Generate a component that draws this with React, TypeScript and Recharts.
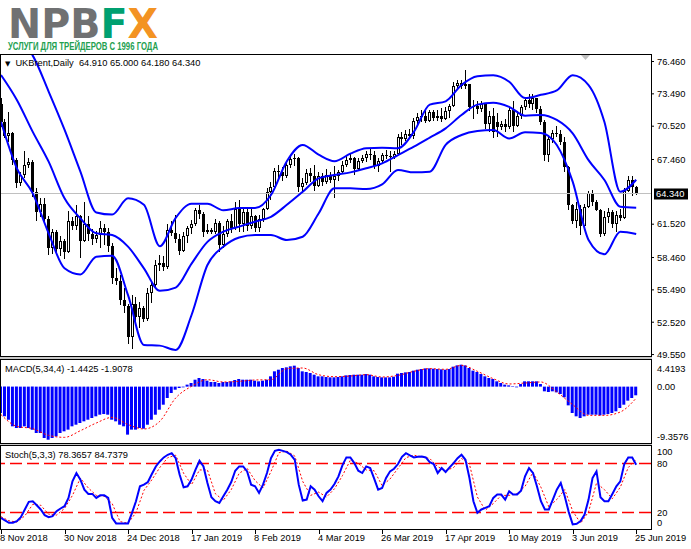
import React from "react";
import { ComposedChart, Bar, Line, XAxis, YAxis, ReferenceLine } from "recharts";

// daily candles, 8 Nov 2018 .. 25 Jun 2019
const opens = [
  72.6, 70.9, 69.6, 69.9, 67.4, 65.3, 66.0, 67.0, 67.2, 64.5,
  62.6, 63.4, 62.0, 59.3, 60.8, 59.2, 60.0, 59.0, 61.8, 61.4,
  62.3, 60.0, 61.5, 60.6, 60.2, 60.5, 61.2, 60.8, 59.5, 56.6,
  56.3, 54.6, 54.0, 51.2, 54.2, 53.0, 53.8, 52.8, 55.2, 55.9,
  57.8, 58.0, 57.6, 61.0, 60.7, 60.2, 59.1, 60.4, 61.2, 61.5,
  62.8, 62.5, 60.8, 61.0, 60.8, 61.6, 59.6, 60.6, 61.8, 61.2,
  62.9, 61.5, 62.6, 61.4, 62.3, 61.2, 62.0, 62.9, 64.5, 64.9,
  66.4, 66.3, 65.9, 67.0, 67.5, 67.6, 64.9, 65.3, 66.2, 65.9,
  65.0, 65.9, 65.4, 66.0, 65.6, 65.9, 66.3, 67.0, 67.4, 67.6,
  66.6, 67.3, 67.6, 68.0, 67.9, 66.9, 67.3, 67.9, 67.8, 67.7,
  68.0, 69.5, 69.3, 69.8, 69.6, 71.0, 71.4, 71.5, 71.0, 71.8,
  71.3, 71.5, 71.2, 71.9, 72.4, 74.2, 74.5, 74.2, 74.4, 72.3,
  72.4, 72.1, 72.6, 70.7, 71.5, 70.9, 70.4, 70.7, 70.4, 72.0,
  70.5, 71.5, 72.3, 72.9, 72.6, 73.1, 72.1, 70.9, 67.9, 69.3,
  69.9, 69.8, 69.1, 66.8, 63.3, 61.8, 62.9, 61.4, 63.1, 64.4,
  63.6, 62.8, 60.6, 62.2, 62.6, 61.5, 62.4, 62.1, 64.6, 65.6,
  64.91,
];
const highs = [
  73.1, 71.2, 71.8, 70.0, 67.6, 66.3, 68.2, 67.6, 67.4, 64.8,
  63.9, 63.9, 62.3, 61.1, 61.0, 60.4, 60.2, 62.7, 62.2, 63.3,
  62.4, 63.6, 62.3, 61.1, 60.9, 61.8, 61.5, 61.2, 59.8, 57.5,
  56.9, 55.7, 54.2, 55.0, 54.8, 54.4, 54.0, 55.7, 56.3, 58.2,
  58.7, 58.6, 61.5, 61.8, 62.4, 60.6, 60.8, 61.4, 61.9, 63.0,
  63.3, 62.6, 61.5, 61.2, 62.0, 61.8, 61.4, 62.0, 62.5, 63.6,
  63.7, 63.0, 63.0, 63.0, 62.4, 62.4, 63.0, 64.8, 65.4, 66.7,
  67.0, 66.8, 67.3, 67.9, 68.0, 67.7, 65.8, 66.6, 66.7, 67.0,
  66.3, 66.2, 66.6, 66.3, 66.9, 66.5, 67.3, 67.9, 68.1, 67.7,
  67.6, 67.9, 68.2, 68.5, 68.2, 67.6, 68.1, 68.3, 68.2, 68.2,
  69.8, 70.0, 70.2, 70.3, 71.3, 71.7, 72.0, 72.0, 72.0, 72.0,
  72.0, 72.2, 72.3, 72.6, 74.6, 74.8, 74.8, 75.7, 74.4, 72.9,
  72.8, 72.8, 72.6, 71.9, 72.2, 71.7, 71.0, 71.2, 72.2, 72.8,
  71.9, 72.5, 73.2, 73.5, 73.5, 73.1, 72.4, 71.1, 69.6, 70.2,
  70.5, 70.2, 69.5, 66.9, 63.4, 63.6, 63.3, 63.4, 64.6, 64.7,
  63.7, 62.9, 62.7, 63.0, 62.8, 62.7, 62.9, 64.8, 65.9, 65.9,
  65.0,
];
const lows = [
  70.4, 69.4, 69.1, 67.0, 64.8, 65.0, 65.8, 66.7, 64.0, 61.8,
  62.2, 61.5, 58.7, 58.8, 58.7, 58.6, 58.3, 58.9, 61.0, 61.0,
  58.4, 59.9, 60.0, 59.6, 59.8, 59.3, 59.6, 59.0, 56.0, 55.9,
  54.1, 53.4, 50.5, 50.1, 52.3, 52.0, 52.5, 52.6, 54.3, 55.6,
  57.2, 57.2, 57.4, 60.4, 59.8, 58.7, 59.0, 59.8, 60.6, 61.4,
  62.0, 60.3, 60.6, 60.6, 60.6, 59.0, 59.3, 60.3, 60.7, 61.0,
  60.8, 60.8, 60.9, 61.1, 60.8, 60.8, 61.7, 62.8, 63.7, 64.7,
  65.6, 65.5, 65.8, 66.7, 66.9, 64.5, 64.4, 65.1, 65.4, 64.6,
  64.9, 65.0, 65.2, 65.3, 63.9, 65.5, 66.1, 66.8, 67.1, 66.0,
  66.5, 67.1, 67.2, 67.4, 66.6, 66.3, 67.1, 67.5, 66.3, 67.5,
  67.9, 68.8, 69.2, 69.4, 69.3, 70.7, 70.9, 70.8, 70.9, 71.0,
  71.0, 70.9, 71.1, 71.3, 72.3, 73.9, 73.9, 73.9, 71.9, 71.2,
  71.6, 71.8, 70.3, 70.0, 69.4, 69.5, 70.2, 70.0, 70.3, 70.0,
  70.4, 71.2, 72.0, 72.2, 72.0, 71.7, 70.6, 67.3, 67.2, 69.0,
  69.5, 68.8, 66.3, 62.8, 61.5, 61.2, 60.5, 61.3, 63.0, 63.2,
  62.7, 60.3, 60.4, 61.6, 61.2, 60.8, 61.8, 62.0, 64.5, 64.1,
  64.18,
];
const closes = [
  70.9, 69.6, 69.9, 67.4, 65.3, 66.0, 67.0, 67.2, 64.5, 62.6,
  63.4, 62.0, 59.3, 60.8, 59.2, 60.0, 59.0, 61.8, 61.4, 62.3,
  60.0, 61.5, 60.6, 60.2, 60.5, 61.2, 60.8, 59.5, 56.6, 56.3,
  54.6, 54.0, 51.2, 54.2, 53.0, 53.8, 52.8, 55.2, 55.9, 57.8,
  58.0, 57.6, 61.0, 60.7, 60.2, 59.1, 60.4, 61.2, 61.5, 62.8,
  62.5, 60.8, 61.0, 60.8, 61.6, 59.6, 60.6, 61.8, 61.2, 62.9,
  61.5, 62.6, 61.4, 62.3, 61.2, 62.0, 62.9, 64.5, 64.9, 66.4,
  66.3, 65.9, 67.0, 67.5, 67.6, 64.9, 65.3, 66.2, 65.9, 65.0,
  65.9, 65.4, 66.0, 65.6, 65.9, 66.3, 67.0, 67.4, 67.6, 66.6,
  67.3, 67.6, 68.0, 67.9, 66.9, 67.3, 67.9, 67.8, 67.7, 68.0,
  69.5, 69.3, 69.8, 69.6, 71.0, 71.4, 71.5, 71.0, 71.8, 71.3,
  71.5, 71.2, 71.9, 72.4, 74.2, 74.5, 74.2, 74.4, 72.3, 72.4,
  72.1, 72.6, 70.7, 71.5, 70.0, 70.4, 70.7, 70.4, 72.0, 70.5,
  71.5, 72.3, 72.9, 72.6, 73.1, 72.1, 70.9, 67.9, 69.3, 69.9,
  69.8, 69.1, 66.8, 63.3, 61.8, 62.9, 61.4, 63.1, 64.4, 63.6,
  62.8, 60.6, 62.2, 62.6, 61.5, 62.4, 62.1, 64.6, 65.6, 64.91,
  64.34,
];

// Bollinger bands, read every 4th bar
const bbUpper = [
  79.8, 78.6, 77.0, 73.7, 70.2, 66.35, 62.6, 62.4, 63.9, 63.3,
  59.5, 62.1, 63.4, 63.4, 62.8, 63.0, 63.0, 64.2, 67.3, 68.8,
  67.9, 67.3, 68.0, 68.5, 68.55, 68.5, 70.0, 72.5, 72.8, 74.3,
  75.1, 75.2, 74.6, 73.1, 73.4, 73.8, 75.2, 74.3, 70.9, 64.5,
  65.6,
];
const bbMiddle = [
  75.22, 72.93, 70.0, 67.26, 63.9, 62.06, 60.68, 60.53, 59.46, 57.47,
  55.4, 55.7, 57.9, 59.9, 60.83, 61.3, 61.75, 62.2, 63.3, 64.5,
  65.73, 66.04, 66.28, 66.65, 67.11, 67.87, 68.64, 69.47, 70.32, 71.55,
  72.5, 72.68, 72.3, 71.49, 71.55, 71.09, 69.86, 67.4, 65.58, 63.13,
  63.04,
];
const bbLower = [
  70.93, 66.65, 64.35, 60.68, 57.47, 56.9, 58.54, 58.63, 55.0, 50.43,
  50.37, 49.97, 53.18, 57.77, 59.45, 60.3, 60.53, 60.53, 60.07, 60.37,
  62.5, 64.81, 64.81, 64.75, 65.18, 66.5, 66.28, 66.34, 68.8, 69.71,
  70.08, 70.17, 69.4, 69.96, 69.9, 68.79, 65.43, 60.07, 58.75, 60.83,
  60.62,
];

// MACD(5,34,4): histogram per bar, signal every 4th bar
const macdHist = [
  -4.38, -4.93, -5.49, -6.59, -6.87, -6.87, -6.59, -6.87, -7.14, -7.7,
  -7.7, -8.53, -8.81, -8.53, -8.25, -7.7, -7.42, -7.14, -6.59, -6.32,
  -6.04, -5.76, -5.49, -5.21, -4.93, -4.66, -4.55, -4.66, -5.49, -5.76,
  -6.32, -6.59, -7.97, -7.14, -7.14, -6.87, -6.98, -6.32, -5.49, -4.66,
  -3.83, -3.0, -1.89, -1.06, -0.51, -0.23, -0.12, 0.33, 0.6, 1.15,
  1.43, 1.27, 0.99, 0.77, 0.77, 0.6, 0.77, 0.77, 0.88, 1.1,
  1.27, 1.15, 1.15, 1.15, 0.99, 0.88, 0.99, 1.15, 1.71, 2.54,
  2.81, 3.09, 3.2, 3.37, 3.48, 3.09, 2.54, 2.43, 2.26, 1.98,
  1.71, 1.71, 1.6, 1.54, 1.54, 1.6, 1.71, 1.87, 1.93, 1.98,
  1.98, 1.98, 2.09, 1.98, 1.71, 1.6, 1.54, 1.54, 1.54, 1.65,
  2.15, 2.26, 2.37, 2.43, 2.65, 2.81, 2.92, 3.03, 3.03, 2.98,
  2.92, 2.87, 2.81, 2.92, 3.31, 3.53, 3.64, 3.53, 3.09, 2.65,
  2.43, 2.09, 1.71, 1.43, 1.27, 0.88, 0.6, 0.33, 0.21, -0.06,
  -0.12, 0.43, 0.88, 0.88, 0.88, 0.88, 0.43, -0.78, -0.89, -0.78,
  -0.95, -1.22, -1.78, -3.11, -4.38, -4.93, -5.21, -4.93, -4.66, -4.66,
  -4.66, -4.77, -4.66, -4.55, -4.38, -4.1, -3.55, -3.0, -2.33, -1.89,
  -1.44,
];
const macdSignal = [
  -4.65, -6.6, -6.98, -8.09, -8.42, -7.31, -6.04, -5.1, -6.3, -7.03,
  -5.76, -1.89, 0.05, 1.15, 0.77, 0.88, 1.1, 1.15, 2.98, 3.09,
  1.98, 1.65, 1.76, 1.98, 1.6, 1.87, 2.54, 2.98, 2.87, 3.53,
  2.54, 1.32, 0.44, 0.6, 0.77, -0.89, -2.99, -4.77, -4.77, -4.21,
  -1.91,
];

// Stoch(5,3,3): main per bar, signal every 2nd bar
const stochMain = [
  13.6, 10.4, 7.6, 7.6, 9.6, 14.5, 23.8, 33.1, 33.9, 29.0,
  23.8, 16.9, 14.5, 15.7, 21.7, 25.0, 27.8, 37.9, 58.1, 68.3,
  60.2, 48.0, 42.8, 42.8, 37.9, 41.1, 41.1, 37.9, 13.6, 6.8,
  6.8, 6.8, 6.8, 19.7, 33.9, 52.1, 54.1, 57.3, 67.0, 76.3,
  82.4, 87.3, 90.5, 92.5, 86.4, 66.2, 50.9, 52.1, 60.2, 72.3,
  83.2, 76.3, 56.1, 38.7, 33.9, 31.8, 39.9, 48.0, 57.3, 71.1,
  76.3, 76.3, 70.3, 54.1, 52.1, 44.0, 54.1, 68.3, 86.4, 95.3,
  96.6, 95.3, 93.7, 90.5, 84.4, 54.1, 34.7, 35.9, 52.1, 48.0,
  39.9, 33.9, 44.0, 48.0, 54.9, 64.2, 77.6, 87.3, 87.3, 80.4,
  71.1, 68.3, 76.3, 74.3, 61.4, 48.0, 50.0, 62.2, 70.3, 73.5,
  79.2, 88.1, 92.5, 89.7, 87.3, 88.1, 88.5, 87.3, 81.6, 79.2,
  68.3, 74.3, 69.5, 75.1, 80.4, 86.4, 90.5, 84.4, 62.2, 33.9,
  19.7, 23.8, 25.8, 27.8, 37.9, 42.0, 42.0, 35.9, 46.0, 42.0,
  42.0, 46.8, 64.2, 74.3, 68.3, 52.1, 33.9, 23.8, 23.8, 35.9,
  48.0, 56.1, 39.9, 20.9, 5.6, 6.4, 9.6, 17.7, 35.9, 62.2,
  70.3, 38.7, 33.9, 33.9, 42.8, 52.1, 58.1, 79.2, 87.3, 87.3,
  78.37,
];
const stochSignal = [
  15, 10, 8.5, 16, 30, 29, 18, 17, 25, 41,
  62, 50, 41, 40, 31, 9, 7, 20, 47, 60,
  75, 87, 90, 68, 54, 72, 72, 43, 35, 48,
  68, 74, 59, 50, 70, 93, 95, 89, 58, 41,
  45, 39, 49, 65, 84, 80, 72, 71, 53, 61,
  74, 87, 90, 88, 86, 76, 71, 75, 86, 79,
  39, 23, 31, 41, 41, 43, 52, 69, 51, 27,
  36, 48, 22, 7, 21, 56, 48, 37, 51, 75,
  84.74,
];

const priceTicks = [76.46, 73.49, 70.52, 67.46, 61.52, 58.46, 55.49, 52.52, 49.55];
const macdTicks = [4.4193, 0, -9.3576];
const macdTickLabels = ["4.4193", "0.00", "-9.3576"];
const stochTicks = [100, 80, 20, 0];
const dateTicks = [0, 16, 32, 48, 64, 80, 96, 112, 128, 144, 160];
const dateLabels = [
  "8 Nov 2018", "30 Nov 2018", "24 Dec 2018", "17 Jan 2019", "8 Feb 2019", "4 Mar 2019",
  "26 Mar 2019", "17 Apr 2019", "10 May 2019", "3 Jun 2019", "25 Jun 2019",
];

const rows = opens.map((o, i) => ({
  i,
  o,
  h: highs[i],
  l: lows[i],
  c: closes[i],
  range: [lows[i], highs[i]],
  up: i % 4 === 0 ? bbUpper[i / 4] : null,
  mid: i % 4 === 0 ? bbMiddle[i / 4] : null,
  lo: i % 4 === 0 ? bbLower[i / 4] : null,
  macd: macdHist[i],
  sig: i % 4 === 0 ? macdSignal[i / 4] : null,
  k: stochMain[i],
  d: i % 2 === 0 ? stochSignal[i / 2] : null,
}));

const FONT = "'Liberation Sans', Arial, sans-serif";
const FS = 9.3;
const W = 691;
const X_DOMAIN: [number, number] = [-0.252, 163.73];
const BLUE = "#0000ff";
const RED = "#ff0000";

function Candle(props: any) {
  const { x, y, width, height, payload } = props;
  if (x == null || !payload) return null;
  const top = Math.min(y, y + height);
  const span = Math.abs(height);
  const { o, h, l, c } = payload;
  const toY = (p: number) => (h === l ? top : top + ((h - p) / (h - l)) * span);
  const px = Math.round(x + width / 2);
  const y1 = toY(Math.max(o, c));
  const y2 = toY(Math.min(o, c));
  const bh = Math.max(y2 - y1, 1);
  const bull = c >= o;
  return (
    <g shapeRendering="crispEdges">
      <rect x={px} y={top} width={1} height={span} fill="#000" />
      <rect x={px - 1} y={y1} width={3} height={bh} fill="#000" />
      {bull && bh > 2 && <rect x={px} y={y1 + 1} width={1} height={bh - 2} fill="#fff" />}
    </g>
  );
}

function MacdTick(props: any) {
  const { x, y, payload } = props;
  const idx = macdTicks.indexOf(payload.value);
  const shift = idx === 0 ? 9 : idx === 2 ? -6 : 0;
  return (
    <text x={x} y={y + shift} dy="0.35em" fontSize={FS} fontFamily={FONT} fill="#000" textAnchor="start">
      {macdTickLabels[idx]}
    </text>
  );
}

function StochTick(props: any) {
  const { x, y, payload } = props;
  const v = payload.value;
  const shift = v === 100 ? 5 : v === 0 ? -6.5 : 0;
  return (
    <text x={x} y={y + shift} dy="0.35em" fontSize={FS} fontFamily={FONT} fill="#000" textAnchor="start">
      {String(v)}
    </text>
  );
}

function DateTick(props: any) {
  const { x, y, payload } = props;
  const idx = dateTicks.indexOf(payload.value);
  const px = Math.round(x);
  return (
    <g>
      <rect x={px} y={y + 1} width={1} height={4} fill="#000" />
      <text x={px - 1} y={y + 9} dy="0.35em" fontSize={FS} fontFamily={FONT} fill="#000" textAnchor="start">
        {dateLabels[idx]}
      </text>
    </g>
  );
}

function PriceBadge(props: any) {
  const vb = props.viewBox || {};
  const bx = (vb.x || 0) + (vb.width || 0) + 3;
  const by = vb.y || 0;
  return (
    <g>
      <rect x={bx} y={by - 5} width={34} height={11} fill="#000" />
      <text x={bx + 2} y={by} dy="0.35em" fontSize={FS} fontFamily={FONT} fill="#fff">
        64.340
      </text>
    </g>
  );
}

const frame = (top: number, height: number): React.CSSProperties => ({
  position: "absolute",
  left: 0,
  top,
  width: 652,
  height,
  border: "1px solid #000",
  boxSizing: "border-box",
  pointerEvents: "none",
});

const label = (top: number): React.CSSProperties => ({
  position: "absolute",
  left: 5,
  top,
  fontSize: FS,
  lineHeight: "12px",
  color: "#000",
  whiteSpace: "pre",
});

export default function App() {
  return (
    <div
      style={{
        position: "absolute",
        left: 0,
        top: 0,
        width: W,
        height: 549,
        background: "#fff",
        overflow: "hidden",
        fontFamily: FONT,
      }}
    >
      {/* logo */}
      <svg width={320} height={54} style={{ position: "absolute", left: 0, top: 0 }}>
        <text
          x={8}
          y={38}
          fontSize={41}
          fontWeight="bold"
          fontFamily="'DejaVu Sans', sans-serif"
          textLength={150}
          lengthAdjust="spacingAndGlyphs"
        >
          <tspan fill="#707172">NPB</tspan>
          <tspan fill="#00a070">F</tspan>
          <tspan fill="#f39323">X</tspan>
        </text>
        <text
          x={8}
          y={50}
          fontSize={10.5}
          fontWeight="bold"
          fontFamily={FONT}
          fill="#23a050"
          textLength={150}
          lengthAdjust="spacingAndGlyphs"
        >
          УСЛУГИ ДЛЯ ТРЕЙДЕРОВ С 1996 ГОДА
        </text>
      </svg>

      {/* main price panel */}
      <div style={{ position: "absolute", left: 0, top: 55 }}>
        <ComposedChart width={W} height={312} data={rows} margin={{ top: 0, right: 0, bottom: 11, left: 0 }}>
          <XAxis type="number" dataKey="i" domain={X_DOMAIN} hide allowDataOverflow />
          <YAxis
            orientation="right"
            width={40}
            domain={[49.417, 77.057]}
            ticks={priceTicks}
            interval={0}
            allowDataOverflow
            axisLine={false}
            tickLine={{ stroke: "#000" }}
            tickSize={3}
            tickMargin={3}
            tick={{ fontSize: FS, fill: "#000", fontFamily: FONT }}
            tickFormatter={(v: number) => v.toFixed(3)}
          />
          <ReferenceLine y={64.34} stroke="#c0c0c0" ifOverflow="visible" label={<PriceBadge />} />
          <Bar dataKey="range" shape={<Candle />} barSize={3} isAnimationActive={false} />
          <Line type="monotone" dataKey="up" stroke={BLUE} strokeWidth={2} dot={false} connectNulls isAnimationActive={false} />
          <Line type="monotone" dataKey="mid" stroke={BLUE} strokeWidth={2} dot={false} connectNulls isAnimationActive={false} />
          <Line type="monotone" dataKey="lo" stroke={BLUE} strokeWidth={2} dot={false} connectNulls isAnimationActive={false} />
        </ComposedChart>
      </div>

      {/* MACD panel */}
      <div style={{ position: "absolute", left: 0, top: 360 }}>
        <ComposedChart width={W} height={83} data={rows} margin={{ top: 0, right: 0, bottom: 0, left: 0 }}>
          <XAxis type="number" dataKey="i" domain={X_DOMAIN} hide allowDataOverflow />
          <YAxis
            orientation="right"
            width={40}
            domain={[-9.3576, 4.4193]}
            ticks={macdTicks}
            interval={0}
            allowDataOverflow
            axisLine={false}
            tickLine={false}
            tickSize={3}
            tickMargin={3}
            tick={<MacdTick />}
          />
          <Bar dataKey="macd" fill={BLUE} barSize={3} isAnimationActive={false} />
          <Line type="monotone" dataKey="sig" stroke={RED} strokeWidth={1} strokeDasharray="2 2" dot={false} connectNulls isAnimationActive={false} />
        </ComposedChart>
      </div>

      {/* Stochastic panel */}
      <div style={{ position: "absolute", left: 0, top: 447 }}>
        <ComposedChart width={W} height={102} data={rows} margin={{ top: 0, right: 0, bottom: 0, left: 0 }}>
          <XAxis
            type="number"
            dataKey="i"
            domain={X_DOMAIN}
            allowDataOverflow
            ticks={dateTicks}
            interval={0}
            height={20}
            axisLine={false}
            tickLine={false}
            tickSize={0}
            tickMargin={0}
            tick={<DateTick />}
          />
          <YAxis
            orientation="right"
            width={40}
            domain={[0, 100]}
            ticks={stochTicks}
            interval={0}
            allowDataOverflow
            axisLine={false}
            tickLine={false}
            tickSize={3}
            tickMargin={3}
            tick={<StochTick />}
          />
          <ReferenceLine y={80} stroke={RED} strokeWidth={1.5} strokeDasharray="12 5" />
          <ReferenceLine y={20} stroke={RED} strokeWidth={1.5} strokeDasharray="12 5" />
          <Line type="linear" dataKey="d" stroke={RED} strokeWidth={1} strokeDasharray="2 2" dot={false} connectNulls isAnimationActive={false} />
          <Line type="linear" dataKey="k" stroke={BLUE} strokeWidth={2} dot={false} isAnimationActive={false} />
        </ComposedChart>
      </div>

      {/* panel frames and separators */}
      <div style={frame(54, 303)} />
      <div style={{ position: "absolute", left: 0, top: 357, width: 652, height: 2, background: "#c8c8c8" }} />
      <div style={frame(359, 85)} />
      <div style={{ position: "absolute", left: 0, top: 444, width: 652, height: 1, background: "#c8c8c8" }} />
      <div style={frame(445, 85)} />

      {/* shift marker */}
      <svg width={10} height={6} style={{ position: "absolute", left: 581, top: 55 }}>
        <polygon points="0,0 9,0 4.5,5" fill="#c0c0c0" />
      </svg>

      {/* panel captions */}
      <div style={label(57)}>
        <span style={{ fontSize: 7, fontFamily: "'DejaVu Sans', sans-serif", marginRight: 5 }}>▼</span>
        {"UKBrent,Daily  64.910 65.000 64.180 64.340"}
      </div>
      <div style={label(363)}>{"MACD(5,34,4) -1.4425 -1.9078"}</div>
      <div style={label(449)}>{"Stoch(5,3,3) 78.3657 84.7379"}</div>
    </div>
  );
}
